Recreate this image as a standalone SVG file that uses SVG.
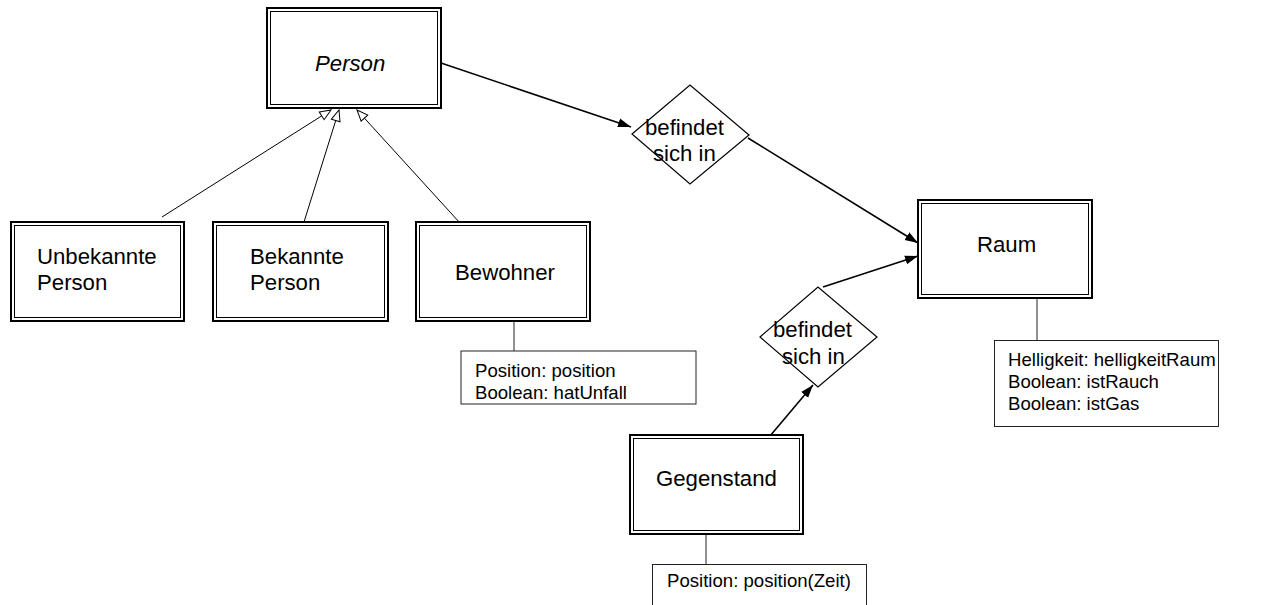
<svg xmlns="http://www.w3.org/2000/svg" width="1261" height="605" viewBox="0 0 1261 605">
<style>
.outer{fill:#fff;stroke:#000;stroke-width:2}
.inner{fill:none;stroke:#000;stroke-width:1}
.lbl{font-family:"Liberation Sans",Arial,sans-serif;font-size:22.2px;fill:#000}
.attr{font-family:"Liberation Sans",Arial,sans-serif;font-size:18.6px;fill:#000}
.abox{fill:#fff;stroke:#222;stroke-width:1}
.stem{stroke:#222;stroke-width:1}
.assoc{stroke:#000;stroke-width:1.6;fill:none}
.gen{stroke:#000;stroke-width:1;fill:none}
.dia{fill:#fff;stroke:#000;stroke-width:1.2}
</style>
<defs>
<marker id="arr" markerUnits="userSpaceOnUse" markerWidth="14" markerHeight="10" refX="13" refY="5" orient="auto">
<path d="M0,0.5 L13,5 L0,9.5 z" fill="#000"/>
</marker>
<marker id="tri" markerUnits="userSpaceOnUse" markerWidth="13" markerHeight="11" refX="12" refY="5.5" orient="auto">
<path d="M1,1 L12,5.5 L1,10 z" fill="#fff" stroke="#000" stroke-width="1"/>
</marker>
</defs>
<rect width="1261" height="605" fill="#fff"/>

<g id="connectors">
<line class="gen" x1="162" y1="217" x2="331" y2="110" marker-end="url(#tri)"/>
<line class="gen" x1="304" y1="222" x2="339" y2="110" marker-end="url(#tri)"/>
<line class="gen" x1="460" y1="223" x2="357" y2="110" marker-end="url(#tri)"/>
<line class="assoc" x1="441" y1="63" x2="631" y2="127" marker-end="url(#arr)"/>
<line class="assoc" x1="748" y1="138" x2="918" y2="243" marker-end="url(#arr)"/>
<line class="assoc" x1="823" y1="287" x2="918" y2="256" marker-end="url(#arr)"/>
<line class="assoc" x1="770" y1="436" x2="813" y2="385" marker-end="url(#arr)"/>
<line class="stem" x1="514" y1="322" x2="514" y2="351"/>
<line class="stem" x1="1037" y1="299" x2="1037" y2="340"/>
<line class="stem" x1="706" y1="535" x2="706" y2="564"/>
</g>

<g id="person">
<rect class="outer" x="267" y="8" width="174" height="100"/>
<rect class="inner" x="270.5" y="11.5" width="167" height="93"/>
<text class="lbl" x="315" y="71" font-style="italic">Person</text>
</g>

<g id="unbekannte-person">
<rect class="outer" x="11" y="222" width="173" height="99"/>
<rect class="inner" x="14.5" y="225.5" width="166" height="92"/>
<text class="lbl" x="37" y="264">Unbekannte</text>
<text class="lbl" x="37" y="290">Person</text>
</g>

<g id="bekannte-person">
<rect class="outer" x="213" y="222" width="175" height="99"/>
<rect class="inner" x="216.5" y="225.5" width="168" height="92"/>
<text class="lbl" x="250" y="264">Bekannte</text>
<text class="lbl" x="250" y="290">Person</text>
</g>

<g id="bewohner">
<rect class="outer" x="416" y="222" width="174" height="99"/>
<rect class="inner" x="419.5" y="225.5" width="167" height="92"/>
<text class="lbl" x="455" y="280">Bewohner</text>
</g>

<g id="bewohner-attr">
<rect class="abox" x="461" y="351" width="235" height="53"/>
<text class="attr" x="475" y="377">Position: position</text>
<text class="attr" x="475" y="399">Boolean: hatUnfall</text>
</g>

<g id="befindet1">
<polygon class="dia" points="632,134 690,85 749,135 690,184"/>
<text class="lbl" x="645" y="135">befindet</text>
<text class="lbl" x="653" y="161">sich in</text>
</g>

<g id="raum">
<rect class="outer" x="918" y="200" width="174" height="98"/>
<rect class="inner" x="921.5" y="203.5" width="167" height="91"/>
<text class="lbl" x="977" y="252">Raum</text>
</g>

<g id="raum-attr">
<rect class="abox" x="994.5" y="340.5" width="224" height="86"/>
<text class="attr" x="1008" y="366">Helligkeit: helligkeitRaum</text>
<text class="attr" x="1008" y="388">Boolean: istRauch</text>
<text class="attr" x="1008" y="410">Boolean: istGas</text>
</g>

<g id="befindet2">
<polygon class="dia" points="760,337 818,287 877,337 818,387"/>
<text class="lbl" x="773" y="337">befindet</text>
<text class="lbl" x="782" y="364">sich in</text>
</g>

<g id="gegenstand">
<rect class="outer" x="630" y="435" width="173" height="99"/>
<rect class="inner" x="633.5" y="438.5" width="166" height="92"/>
<text class="lbl" x="656" y="486">Gegenstand</text>
</g>

<g id="gegenstand-attr">
<rect class="abox" x="652.5" y="564.5" width="214" height="60"/>
<text class="attr" x="667" y="587">Position: position(Zeit)</text>
</g>
</svg>
